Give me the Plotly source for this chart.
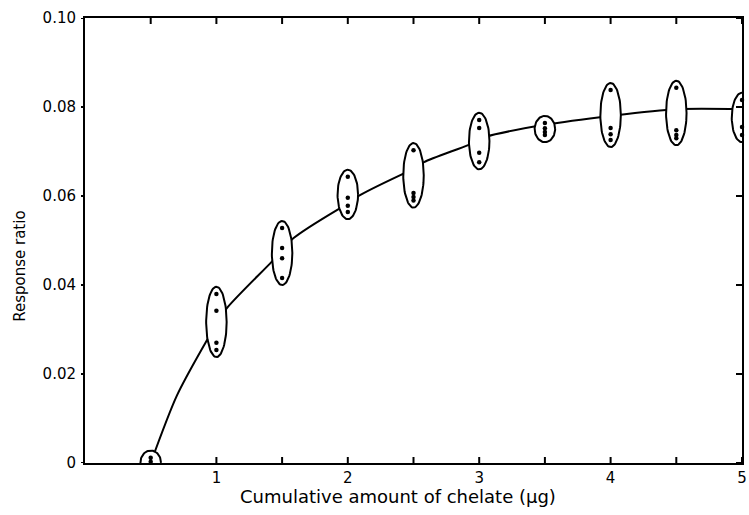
import numpy as np
import plotly.graph_objects as go

# ---- data ----
amounts = [0.5, 1.0, 1.5, 2.0, 2.5, 3.0, 3.5, 4.0, 4.5, 5.0]
replicates = [
    [0.0012, 0.0003, -0.0009],
    [0.0380, 0.0342, 0.0270, 0.0254],
    [0.0528, 0.0483, 0.0460, 0.0416],
    [0.0643, 0.0596, 0.0578, 0.0564],
    [0.0703, 0.0607, 0.0598, 0.0590],
    [0.0771, 0.0753, 0.0697, 0.0676],
    [0.0764, 0.0752, 0.0744, 0.0737],
    [0.0838, 0.0753, 0.0739, 0.0726],
    [0.0843, 0.0748, 0.0737, 0.0730],
    [0.0816, 0.0755, 0.0737],
]
curve_x = [0.5, 0.7, 0.92, 1.0, 1.08, 1.42, 1.5, 1.59, 1.92, 2.0, 2.07, 2.4, 2.5, 2.58, 2.92, 3.05, 3.5, 4.0, 4.5, 5.0]
curve_y = [0.0, 0.0152, 0.0272, 0.0312, 0.0348, 0.0452, 0.0478, 0.0506, 0.0569, 0.0582, 0.0598, 0.0647, 0.0660, 0.0676, 0.0715, 0.0733, 0.0760, 0.0780, 0.0795, 0.0795]

x_tick_vals = [0.5, 1, 1.5, 2, 2.5, 3, 3.5, 4, 4.5, 5]
x_tick_text = ["", "1", "", "2", "", "3", "", "4", "", "5"]
y_tick_vals = [0, 0.02, 0.04, 0.06, 0.08, 0.10]
y_tick_text = ["0", "0.02", "0.04", "0.06", "0.08", "0.10"]

x_title = "Cumulative amount of chelate (μg)"
y_title = "Response ratio"

FONT = "DejaVu Sans"
ELL_HALF_W = 0.078
ELL_PAD = 0.0016

W, H = 749, 515
ML, MR, MT, MB = 85, 7, 18, 52
PW, PH = W - ML - MR, H - MT - MB
TL_IN = 6     # inside tick length (px)
TL_OUT = 4    # outside tick length (px)
TICK_COLOR = "black"

fig = go.Figure()

# fitted curve
fig.add_trace(go.Scatter(x=curve_x, y=curve_y, mode="lines",
                         line=dict(color="black", width=2, shape="spline", smoothing=0.8),
                         hoverinfo="skip", showlegend=False))

# ellipses enclosing replicate groups
t = np.linspace(0, 2 * np.pi, 80)
for xv, reps in zip(amounts, replicates):
    lo, hi = min(reps) - ELL_PAD, max(reps) + ELL_PAD
    cy, b = (lo + hi) / 2, (hi - lo) / 2
    fig.add_trace(go.Scatter(x=xv + ELL_HALF_W * np.cos(t), y=cy + b * np.sin(t),
                             mode="lines", fill="toself", fillcolor="white",
                             line=dict(color="black", width=2),
                             hoverinfo="skip", showlegend=False, cliponaxis=False))

# replicate points
px, py = [], []
for xv, reps in zip(amounts, replicates):
    for r in reps:
        px.append(xv)
        py.append(r)
fig.add_trace(go.Scatter(x=px, y=py, mode="markers",
                         marker=dict(color="black", size=4.5),
                         showlegend=False, cliponaxis=False))

# tick marks drawn as shapes on the axis scales
tick_line = dict(color=TICK_COLOR, width=2)
shapes = []
for v in x_tick_vals:
    shapes.append(dict(type="line", xref="x", yref="paper", x0=v, x1=v,
                       y0=0, y1=TL_IN / PH, line=tick_line, layer="above"))
    shapes.append(dict(type="line", xref="x", yref="paper", x0=v, x1=v,
                       y0=1, y1=1 - TL_IN / PH, line=tick_line, layer="above"))
for v in y_tick_vals:
    shapes.append(dict(type="line", xref="paper", yref="y", x0=0, x1=-TL_OUT / PW,
                       y0=v, y1=v, line=tick_line, layer="above"))
    shapes.append(dict(type="line", xref="paper", yref="y", x0=1, x1=1 - TL_IN / PW,
                       y0=v, y1=v, line=tick_line, layer="above"))

fig.update_layout(
    width=W, height=H,
    margin=dict(l=ML, r=MR, t=MT, b=MB, autoexpand=False),
    paper_bgcolor="white", plot_bgcolor="white",
    font=dict(family=FONT, size=14, color="black"),
    xaxis=dict(range=[0, 5], tickvals=x_tick_vals, ticktext=x_tick_text,
               ticks="", showline=True, linecolor="black", linewidth=2, mirror=True,
               showgrid=False, zeroline=False, tickfont=dict(size=15)),
    yaxis=dict(range=[0, 0.10], tickvals=y_tick_vals, ticktext=y_tick_text,
               ticks="outside", ticklen=TL_OUT, tickcolor="rgba(0,0,0,0)",
               showline=True, linecolor="black", linewidth=2, mirror=True,
               showgrid=False, zeroline=False, tickfont=dict(size=15)),
    shapes=shapes,
    annotations=[
        dict(text=y_title, xref="paper", yref="paper", x=-0.099, y=0.443,
             textangle=-90, showarrow=False, font=dict(size=15), xanchor="center", yanchor="middle"),
        dict(text=x_title, xref="paper", yref="paper", x=0.476, y=-0.076,
             showarrow=False, font=dict(size=18), xanchor="center", yanchor="middle"),
    ],
)

fig.write_html("out.html")
